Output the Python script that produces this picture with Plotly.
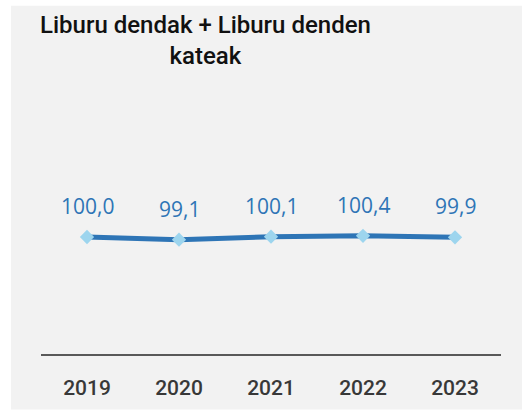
import plotly.graph_objects as go

years = ["2019", "2020", "2021", "2022", "2023"]
values = [100.0, 99.1, 100.1, 100.4, 99.9]
labels = ["100,0", "99,1", "100,1", "100,4", "99,9"]

W, H = 522, 412
L, R, T, B = 41, 21, 117, 52
PW, PH = W - L - R, H - T - B

fig = go.Figure()
fig.add_trace(go.Scatter(
    x=years, y=values, mode="lines+markers",
    line=dict(color="#2e75b6", width=5),
    marker=dict(symbol="diamond", size=11, color="#9dd5ee"),
    hoverinfo="skip",
))

# gray card background (white sliver on left/top)
fig.add_shape(type="rect", xref="paper", yref="paper",
              x0=(11 - L) / PW, x1=(W + 5 - L) / PW,
              y0=-(B + 5) / PH, y1=(H - 3 - B) / PH,
              fillcolor="#f2f2f2", line=dict(width=0), layer="below")

annotations = [dict(
    x=i, y=v, text=t, xref="x", yref="y", showarrow=False,
    xanchor="center", yanchor="bottom", yshift=15,
    font=dict(family="Open Sans", size=21, color="#2e75b6"),
) for i, (v, t) in enumerate(zip(values, labels))]

annotations.append(dict(
    text="Liburu dendak + Liburu denden<br>kateak",
    xref="paper", yref="paper",
    x=(205 - L) / PW, xanchor="center",
    y=(H - 6 - B) / PH, yanchor="top",
    showarrow=False, align="center",
    font=dict(family="Roboto", size=24, color="#111111", weight=500),
))

fig.update_layout(
    width=W, height=H,
    margin=dict(l=L, r=R, t=T, b=B),
    paper_bgcolor="white", plot_bgcolor="rgba(0,0,0,0)",
    showlegend=False,
    xaxis=dict(type="category", range=[-0.5, 4.5], showgrid=False,
               showline=True, linecolor="#595959", linewidth=2,
               ticks="", ticklabelstandoff=14,
               tickfont=dict(family="Roboto", size=21, color="#383838", weight=500)),
    yaxis=dict(range=[60.5, 140.5], visible=False),
    annotations=annotations,
)

fig.write_html("out.html", config={"displayModeBar": False},
               post_script="document.body.style.margin='0';document.body.style.overflow='hidden';")
